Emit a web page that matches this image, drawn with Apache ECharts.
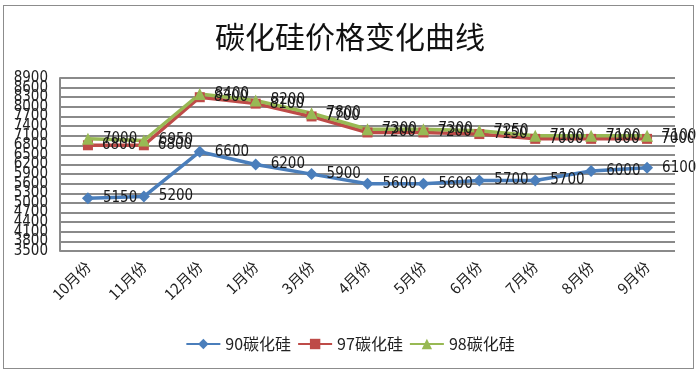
<!DOCTYPE html>
<html><head><meta charset="utf-8">
<script src="https://cdn.jsdelivr.net/npm/echarts@6/dist/echarts.min.js"></script>
<style>html,body{margin:0;padding:0;background:#fff}#c{width:700px;height:379px}
#f{position:absolute;left:3px;top:5px;width:689px;height:362px;border:1.5px solid #8c8c8c;pointer-events:none}</style>
</head><body><div id="c"></div><div id="f"></div>
<script>
const categories = ['10月份','11月份','12月份','1月份','3月份','4月份','5月份','6月份','7月份','8月份','9月份'];
const s90 = [5150, 5200, 6600, 6200, 5900, 5600, 5600, 5700, 5700, 6000, 6100];
const s97 = [6800, 6800, 8300, 8100, 7700, 7200, 7200, 7150, 7000, 7000, 7000];
const s98 = [7000, 6950, 8400, 8200, 7800, 7300, 7300, 7250, 7100, 7100, 7100];
const seriesNames = ['90碳化硅', '97碳化硅', '98碳化硅'];
const titleText = '碳化硅价格变化曲线';
const yTicks = [3500, 3800, 4100, 4400, 4700, 5000, 5300, 5600, 5900, 6200, 6500, 6800, 7100, 7400, 7700, 8000, 8300, 8600, 8900];

const yMin = yTicks[0], yMax = yTicks[yTicks.length - 1];
const numFont = "'Liberation Sans Narrow','DejaVu Sans Condensed','DejaVu Sans'";
const cjkFont = "'Noto Sans CJK SC'";
const chart = echarts.init(document.getElementById('c'), null, {renderer: 'canvas'});
const lbl = {show: true, position: 'right', distance: 9, color: '#1a1a1a', fontSize: 15, fontFamily: numFont};
function mk(name, data, color, symbol, size) {
  return {
    name, type: 'line', data, symbol, symbolSize: size,
    lineStyle: {color, width: 3.5}, itemStyle: {color},
    label: lbl, animation: false, z: 3
  };
}
const gridSeries = {
  name: 'grid', type: 'line', data: [], z: 1, silent: true, animation: false,
  markLine: {
    silent: true, symbol: ['none', 'none'], animation: false, z: 1,
    label: {show: false},
    lineStyle: {color: '#8a8a8a', width: 2, type: 'solid', opacity: 1},
    data: yTicks.map(v => ({yAxis: v}))
  }
};
chart.setOption({
  animation: false,
  backgroundColor: '#ffffff',
  title: {text: titleText, left: 'center', top: 17,
    textStyle: {fontSize: 30, fontWeight: 'normal', color: '#111', fontFamily: cjkFont}},
  legend: {bottom: 22, left: 'center', itemWidth: 34, itemHeight: 13, itemGap: 6,
    textStyle: {fontSize: 16, color: '#222', fontFamily: cjkFont}, data: seriesNames},
  grid: {left: 60, right: 25, top: 78, bottom: 128},
  xAxis: {type: 'category', data: categories, boundaryGap: true,
    axisLine: {show: false}, axisTick: {show: false}, splitLine: {show: false},
    axisLabel: {rotate: 45, fontSize: 15, color: '#222', fontFamily: cjkFont, margin: 13, interval: 0}},
  yAxis: {type: 'value', min: yMin, max: yMax, interval: 100,
    axisLine: {show: true, lineStyle: {color: '#8a8a8a', width: 2}},
    axisTick: {show: false},
    splitLine: {show: false},
    axisLabel: {show: true, showMinLabel: true, showMaxLabel: true,
      formatter: v => (yTicks.indexOf(v) >= 0 ? String(v) : ''),
      fontSize: 15, color: '#222', fontFamily: numFont, margin: 12}},
  series: [
    gridSeries,
    mk(seriesNames[0], s90, '#4A7EBB', 'diamond', 12),
    mk(seriesNames[1], s97, '#BE4B48', 'rect', 10),
    mk(seriesNames[2], s98, '#98B954', 'triangle', 12)
  ]
});
</script></body></html>
